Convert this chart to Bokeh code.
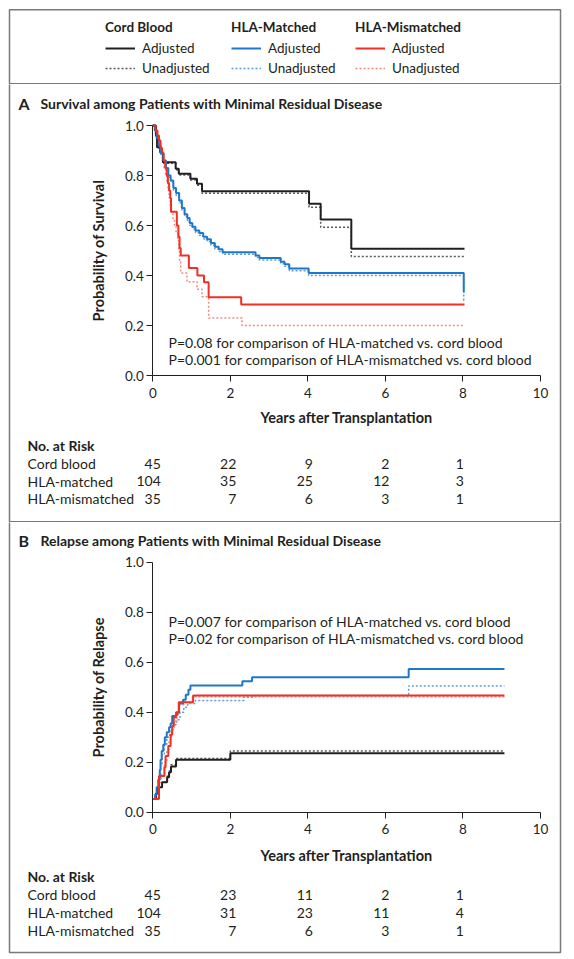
import math
from bokeh.plotting import figure
from bokeh.models import (Range1d, Label, Legend, LegendItem, FixedTicker,
                          NumeralTickFormatter, BoxAnnotation)
from bokeh.core.properties import value
from bokeh.layouts import column
from bokeh.embed import file_html
from bokeh.resources import INLINE

FONT = "Lato"
TXT = "#231f20"
BORDER_COLOR = "#77787b"
DOT = "2 2"

# ---------------- data ----------------
groups = ["Cord blood", "HLA-matched", "HLA-mismatched"]
legend_headers = ["Cord Blood", "HLA-Matched", "HLA-Mismatched"]
legend_labels = ["Adjusted", "Unadjusted"]
x_ticks = [0, 2, 4, 6, 8, 10]
y_ticks = [0.0, 0.2, 0.4, 0.6, 0.8, 1.0]
risk_times = [0, 2, 4, 6, 8]

colors_adj = ["#231f20", "#1f77c8", "#ee3124"]
colors_unadj = ["#58595b", "#5f9fd8", "#f28a80"]

# Panel A: survival
a_cord_adj_t = [0, 0.08, 0.11, 0.19, 0.26, 0.59, 0.67, 0.97, 1.14, 1.27, 4.03, 4.33, 5.12, 8.04]
a_cord_adj_s = [1.0, 0.96, 0.913, 0.893, 0.853, 0.827, 0.807, 0.787, 0.767, 0.737, 0.687, 0.624, 0.507, 0.507]
a_cord_unadj_t = [0, 0.08, 0.11, 0.19, 0.26, 0.59, 0.67, 0.97, 1.14, 1.27, 4.03, 4.33, 5.12, 8.04]
a_cord_unadj_s = [1.0, 0.955, 0.91, 0.889, 0.849, 0.822, 0.802, 0.782, 0.761, 0.729, 0.673, 0.593, 0.476, 0.476]

a_match_adj_t = [0, 0.05, 0.1, 0.15, 0.2, 0.27, 0.34, 0.4, 0.46, 0.53, 0.6, 0.68, 0.75, 0.82, 0.89, 0.95,
                 1.02, 1.1, 1.2, 1.3, 1.4, 1.5, 1.6, 1.7, 1.8, 2.65, 2.75, 3.3, 3.4, 3.52, 4.02, 8.02, 8.04]
a_match_adj_s = [1.0, 0.98, 0.95, 0.92, 0.89, 0.86, 0.83, 0.80, 0.78, 0.75, 0.73, 0.70, 0.67, 0.645, 0.63, 0.61,
                 0.595, 0.58, 0.57, 0.555, 0.545, 0.53, 0.515, 0.505, 0.493, 0.48, 0.47, 0.455, 0.445, 0.428, 0.41, 0.335, 0.335]
a_match_unadj_t = [0, 0.05, 0.1, 0.15, 0.2, 0.27, 0.34, 0.4, 0.46, 0.53, 0.6, 0.68, 0.75, 0.82, 0.89, 0.95,
                   1.02, 1.1, 1.2, 1.3, 1.4, 1.5, 1.6, 1.7, 1.8, 2.65, 2.75, 3.3, 3.4, 3.52, 4.02, 8.02, 8.04]
a_match_unadj_s = [1.0, 0.978, 0.947, 0.916, 0.885, 0.854, 0.823, 0.793, 0.772, 0.742, 0.721, 0.691, 0.66, 0.636, 0.62, 0.601,
                   0.586, 0.571, 0.561, 0.546, 0.536, 0.521, 0.506, 0.496, 0.485, 0.472, 0.462, 0.447, 0.437, 0.419, 0.40, 0.30, 0.30]

a_mis_adj_t = [0, 0.07, 0.12, 0.16, 0.2, 0.24, 0.28, 0.32, 0.36, 0.39, 0.42, 0.45, 0.47, 0.62, 0.66, 0.69, 0.72,
               0.93, 1.15, 1.32, 1.44, 2.28, 8.04]
a_mis_adj_s = [1.0, 0.98, 0.96, 0.94, 0.91, 0.89, 0.86, 0.83, 0.80, 0.77, 0.74, 0.71, 0.655, 0.60, 0.555, 0.51, 0.48,
               0.43, 0.40, 0.373, 0.313, 0.284, 0.284]
a_mis_unadj_t = [0, 0.07, 0.12, 0.17, 0.21, 0.25, 0.29, 0.33, 0.36, 0.39, 0.42, 0.45, 0.48, 0.52, 0.56, 0.6, 0.64,
                 0.67, 0.69, 0.72, 0.88, 1.14, 1.27, 1.44, 2.3, 8.04]
a_mis_unadj_s = [1.0, 0.98, 0.95, 0.92, 0.89, 0.86, 0.83, 0.80, 0.77, 0.74, 0.71, 0.68, 0.65, 0.62, 0.60, 0.57, 0.54,
                 0.50, 0.46, 0.41, 0.375, 0.345, 0.315, 0.23, 0.20, 0.20]

# Panel B: relapse (cumulative incidence)
b_cord_adj_t = [0, 0.08, 0.12, 0.24, 0.37, 0.42, 0.47, 0.6, 2.0, 9.07]
b_cord_adj_c = [0.053, 0.075, 0.10, 0.12, 0.14, 0.16, 0.183, 0.21, 0.236, 0.236]
b_cord_unadj_t = [0, 0.08, 0.12, 0.24, 0.37, 0.42, 0.47, 0.6, 2.0, 9.07]
b_cord_unadj_c = [0.053, 0.075, 0.10, 0.12, 0.145, 0.165, 0.19, 0.215, 0.245, 0.245]

b_match_adj_t = [0, 0.06, 0.1, 0.14, 0.18, 0.2, 0.23, 0.27, 0.31, 0.36, 0.42, 0.46, 0.5, 0.6, 0.64, 0.68,
                 0.78, 0.85, 0.92, 0.97, 2.31, 2.56, 6.6, 9.07]
b_match_adj_c = [0.053, 0.07, 0.10, 0.13, 0.17, 0.21, 0.245, 0.27, 0.30, 0.32, 0.34, 0.355, 0.385, 0.39, 0.40, 0.435,
                 0.45, 0.47, 0.49, 0.507, 0.524, 0.54, 0.573, 0.573]
b_match_unadj_t = [0, 0.1, 0.16, 0.2, 0.24, 0.3, 0.36, 0.44, 0.52, 0.6, 0.7, 0.8, 0.9, 1.1, 2.35, 2.6, 6.6, 9.07]
b_match_unadj_c = [0.053, 0.09, 0.14, 0.19, 0.23, 0.27, 0.30, 0.33, 0.35, 0.37, 0.40, 0.42, 0.435, 0.447, 0.46,
                   0.467, 0.505, 0.505]

b_mis_adj_t = [0, 0.16, 0.3, 0.33, 0.4, 0.46, 0.5, 0.54, 0.6, 0.67, 1.04, 9.07]
b_mis_adj_c = [0.053, 0.145, 0.18, 0.225, 0.265, 0.31, 0.345, 0.38, 0.40, 0.44, 0.467, 0.467]
b_mis_unadj_t = [0, 0.16, 0.22, 0.3, 0.36, 0.42, 0.48, 0.55, 0.62, 0.68, 0.8, 1.02, 9.07]
b_mis_unadj_c = [0.053, 0.12, 0.15, 0.20, 0.25, 0.29, 0.33, 0.36, 0.39, 0.43, 0.44, 0.462, 0.462]

# numbers at risk
a_risk_cord = [45, 22, 9, 2, 1]
a_risk_match = [104, 35, 25, 12, 3]
a_risk_mis = [35, 7, 6, 3, 1]
b_risk_cord = [45, 23, 11, 2, 1]
b_risk_match = [104, 31, 23, 11, 4]
b_risk_mis = [35, 7, 6, 3, 1]

a_title = "Survival among Patients with Minimal Residual Disease"
b_title = "Relapse among Patients with Minimal Residual Disease"
a_ylabel = "Probability of Survival"
b_ylabel = "Probability of Relapse"
x_label = "Years after Transplantation"
risk_header = "No. at Risk"
a_pvals = ["P=0.08 for comparison of HLA-matched vs. cord blood",
           "P=0.001 for comparison of HLA-mismatched vs. cord blood"]
b_pvals = ["P=0.007 for comparison of HLA-matched vs. cord blood",
           "P=0.02 for comparison of HLA-mismatched vs. cord blood"]

# ---------------- layout constants (page pixels) ----------------
W = 566
X0 = 152.3          # page x of year 0
PPY = 38.77         # pixels per year
PPU = 250.0         # pixels per unit probability
BOX_L, BOX_R = 9, 560
FIG_L = (0, 84)
FIG_A = (84, 438)
FIG_B = (522, 435)
num_offsets = [8, 6, 5, 4, 1]


def sy(fig, page_y):
    top, h = fig
    return h - (page_y - top)


def add_label(p, fig, text, x, page_y, x_units="screen", size="14px", bold=False,
              align="left", x_offset=0, angle=0):
    p.add_layout(Label(x=x, y=sy(fig, page_y), x_units=x_units, y_units="screen", text=text,
                       text_font=FONT, text_font_size=size,
                       text_font_style="bold" if bold else "normal",
                       text_color=TXT, text_align=align, text_baseline="middle",
                       x_offset=x_offset, angle=angle))


def add_box(p, fig, top_page, bottom_page):
    p.add_layout(BoxAnnotation(left=BOX_L, right=BOX_R, top=sy(fig, top_page), bottom=sy(fig, bottom_page),
                               left_units="screen", right_units="screen",
                               top_units="screen", bottom_units="screen",
                               fill_alpha=0, line_color=BORDER_COLOR, line_alpha=1, line_width=1.5))


def make_panel(fig, y0_page, letter, title, ylabel, curves_unadj, curves_adj, pvals, risks,
               title_y, p_ys, xlab_y, ylab_x, risk_head_y, risk_ys, box_bottom):
    top, h = fig
    p = figure(width=W, height=h,
               x_range=Range1d(-X0 / PPY, (W - X0) / PPY),
               y_range=Range1d(-(top + h - y0_page) / PPU, (y0_page - top) / PPU),
               min_border=0, output_backend="svg", toolbar_location=None)
    p.outline_line_color = None
    p.xgrid.visible = False
    p.ygrid.visible = False
    p.background_fill_color = "white"
    p.border_fill_color = "white"

    for (t, s), c in zip(curves_unadj, colors_unadj):
        p.step(x=t, y=s, mode="after", line_color=c, line_width=1.5, line_dash=DOT)
    for (t, s), c in zip(curves_adj, colors_adj):
        p.step(x=t, y=s, mode="after", line_color=c, line_width=2)

    for ax in (p.xaxis[0], p.yaxis[0]):
        ax.fixed_location = 0
        ax.axis_line_color = TXT
        ax.axis_line_width = 1
        ax.major_tick_line_color = TXT
        ax.major_tick_out = 6
        ax.major_tick_in = 0
        ax.minor_tick_line_color = None
        ax.major_label_text_font = FONT
        ax.major_label_text_font_size = "13.5px"
        ax.major_label_text_color = TXT
    p.xaxis.ticker = FixedTicker(ticks=x_ticks)
    p.xaxis.bounds = (x_ticks[0], x_ticks[-1])
    p.xaxis.major_label_standoff = 6
    p.yaxis.ticker = FixedTicker(ticks=y_ticks)
    p.yaxis.bounds = (y_ticks[0], y_ticks[-1])
    p.yaxis.formatter = NumeralTickFormatter(format="0.0")
    p.yaxis.major_label_standoff = 3

    add_label(p, fig, x_label, X0 + 5 * PPY, xlab_y, size="14.5px", bold=True, align="center")
    add_label(p, fig, ylabel, ylab_x, y0_page - 0.5 * PPU, size="14.5px", bold=True,
              align="center", angle=math.pi / 2)
    add_label(p, fig, letter, 18, title_y, size="16px", bold=True)
    add_label(p, fig, title, 40, title_y, size="14px", bold=True)
    for txt, y in zip(pvals, p_ys):
        add_label(p, fig, txt, 168, y, size="14px")
    add_label(p, fig, risk_header, 27, risk_head_y, size="14px", bold=True)
    for g, row, y in zip(groups, risks, risk_ys):
        add_label(p, fig, g, 27, y, size="14px")
        for t, n, off in zip(risk_times, row, num_offsets):
            add_label(p, fig, str(n), t, y, x_units="data", size="14px", align="right", x_offset=off)

    add_box(p, fig, top - 10, box_bottom)
    return p


# ---------------- legend box ----------------
pl = figure(width=W, height=FIG_L[1], x_range=Range1d(0, 1), y_range=Range1d(0, 1),
            x_axis_type=None, y_axis_type=None, output_backend="svg", toolbar_location=None,
            min_border=0)
pl.outline_line_color = None
pl.background_fill_color = "white"
pl.border_fill_color = "white"
legend_x = [105, 231, 355]
for hdr, ca, cu, lx in zip(legend_headers, colors_adj, colors_unadj, legend_x):
    r1 = pl.line(x=[-10], y=[-10], line_color=ca, line_width=2)
    r2 = pl.line(x=[-10], y=[-10], line_color=cu, line_width=1.5, line_dash=DOT)
    lg = Legend(items=[LegendItem(label=value(legend_labels[0]), renderers=[r1]),
                       LegendItem(label=value(legend_labels[1]), renderers=[r2])],
                title=hdr, location=(lx, 6),
                label_text_font=FONT, label_text_font_size="13.5px", label_text_color=TXT,
                title_text_font=FONT, title_text_font_size="13.5px", title_text_font_style="bold",
                title_text_color=TXT, title_standoff=3,
                glyph_width=30, glyph_height=20, label_height=20, label_standoff=7,
                spacing=0, padding=0, margin=0, border_line_color=None,
                background_fill_alpha=0)
    pl.add_layout(lg, "center")
add_box(pl, FIG_L, 9.3, 83.3)

pa = make_panel(FIG_A, 375.0, "A", a_title, a_ylabel,
                [(a_cord_unadj_t, a_cord_unadj_s), (a_match_unadj_t, a_match_unadj_s), (a_mis_unadj_t, a_mis_unadj_s)],
                [(a_cord_adj_t, a_cord_adj_s), (a_match_adj_t, a_match_adj_s), (a_mis_adj_t, a_mis_adj_s)],
                a_pvals, [a_risk_cord, a_risk_match, a_risk_mis],
                title_y=103, p_ys=[341.7, 359], xlab_y=417, ylab_x=98,
                risk_head_y=445, risk_ys=[463, 480.5, 498], box_bottom=521.3)

pb = make_panel(FIG_B, 811.7, "B", b_title, b_ylabel,
                [(b_cord_unadj_t, b_cord_unadj_c), (b_match_unadj_t, b_match_unadj_c), (b_mis_unadj_t, b_mis_unadj_c)],
                [(b_cord_adj_t, b_cord_adj_c), (b_match_adj_t, b_match_adj_c), (b_mis_adj_t, b_mis_adj_c)],
                b_pvals, [b_risk_cord, b_risk_match, b_risk_mis],
                title_y=540, p_ys=[621, 637.7], xlab_y=855, ylab_x=98,
                risk_head_y=876, risk_ys=[894, 912, 930], box_bottom=952)

layout = column(pl, pa, pb, spacing=0)
open("out.html", "w").write(file_html(layout, INLINE))
